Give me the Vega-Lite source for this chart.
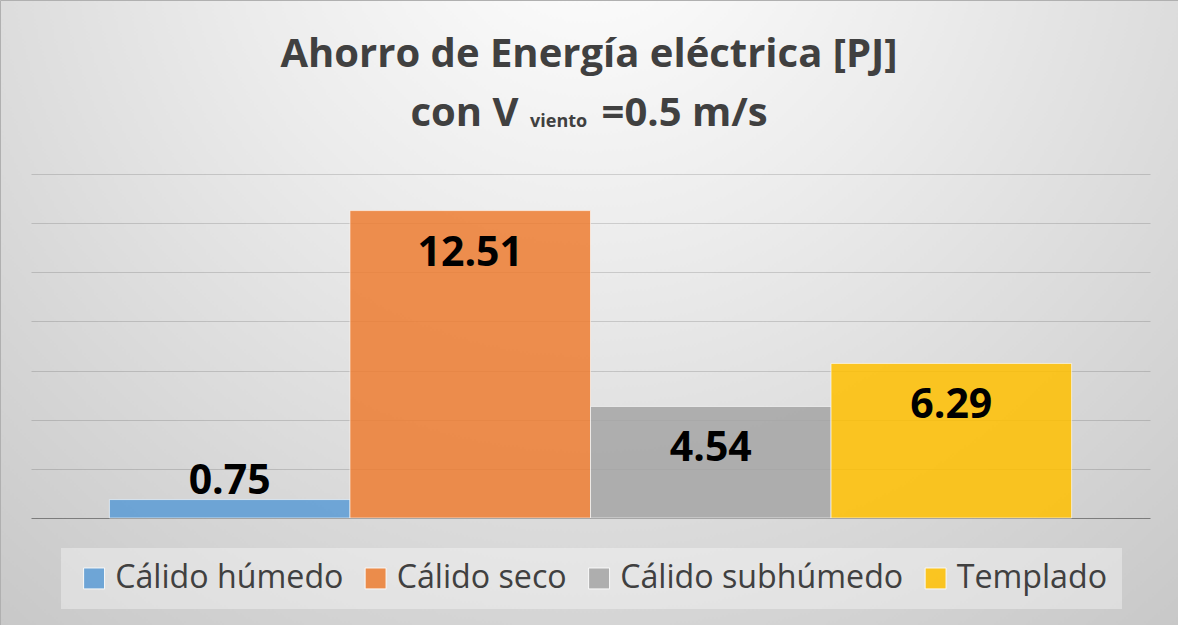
{
  "$schema": "https://vega.github.io/schema/vega-lite/v6.json",
  "width": 1178,
  "height": 625,
  "autosize": {"type": "fit", "contains": "padding"},
  "padding": 0,
  "background": "#d8d8d8",
  "view": {
    "fill": {
      "gradient": "radial",
      "x1": 0.5, "y1": 0.15, "r1": 0,
      "x2": 0.5, "y2": 0.15, "r2": 0.85,
      "stops": [
        {"offset": 0, "color": "#ffffff"},
        {"offset": 0.35, "color": "#ececec"},
        {"offset": 0.7, "color": "#d6d6d6"},
        {"offset": 1, "color": "#c4c4c4"}
      ]
    },
    "stroke": "#b0b0b0",
    "strokeWidth": 1
  },
  "title": {
    "text": ["Ahorro de Energía eléctrica [PJ]", "con V\u00a0\u00a0\u00a0\u00a0\u00a0\u00a0\u00a0\u00a0=0.5 m/s"],
    "subtitle": "viento\u00a0\u00a0\u00a0\u00a0\u00a0\u00a0\u00a0\u00a0\u00a0\u00a0\u00a0\u00a0\u00a0\u200b",
    "orient": "top",
    "anchor": "middle",
    "frame": "group",
    "offset": -134,
    "font": "Open Sans",
    "fontWeight": "bold",
    "fontSize": 40,
    "lineHeight": 59,
    "color": "#404040",
    "subtitleFont": "Open Sans",
    "subtitleFontWeight": "bold",
    "subtitleFontSize": 18,
    "subtitleColor": "#404040",
    "subtitlePadding": -21
  },
  "data": {
    "values": [
      {"clima": "Cálido húmedo", "valor": 0.75},
      {"clima": "Cálido seco", "valor": 12.51},
      {"clima": "Cálido subhúmedo", "valor": 4.54},
      {"clima": "Templado", "valor": 6.29}
    ]
  },
  "encoding": {
    "x": {
      "field": "clima",
      "type": "nominal",
      "sort": null,
      "scale": {"range": [31, 1150], "paddingInner": 0, "paddingOuter": 0.326},
      "axis": null
    },
    "y": {
      "field": "valor",
      "type": "quantitative",
      "scale": {"domain": [-4.3547, 21.081], "nice": false, "zero": false},
      "axis": {
        "values": [0, 2, 4, 6, 8, 10, 12, 14],
        "labels": false,
        "ticks": false,
        "domain": false,
        "title": null,
        "grid": true,
        "gridColor": "#000000",
        "gridOpacity": {"condition": {"test": "datum.value === 0", "value": 0.4}, "value": 0.14},
        "gridWidth": 1
      }
    }
  },
  "layer": [
    {
      "mark": {"type": "bar", "fillOpacity": 0.85, "stroke": "#ffffff", "strokeOpacity": 0.6, "strokeWidth": 1},
      "encoding": {
        "y2": {"datum": 0},
        "color": {
          "field": "clima",
          "type": "nominal",
          "sort": null,
          "scale": {
            "domain": ["Cálido húmedo", "Cálido seco", "Cálido subhúmedo", "Templado"],
            "range": ["#5B9BD5", "#ED7D31", "#A5A5A5", "#FFC000"]
          },
          "legend": {
            "title": null,
            "orient": "none",
            "legendX": 61,
            "legendY": 548,
            "direction": "horizontal",
            "columns": 4,
            "padding": 14,
            "fillColor": "rgba(255,255,255,0.35)",
            "symbolType": "square",
            "symbolSize": 440,
            "symbolOffset": 3,
            "symbolOpacity": 0.85,
            "symbolStrokeColor": "#ffffff",
            "symbolStrokeWidth": 1,
            "labelFont": "Open Sans",
            "labelFontSize": 32.2,
            "labelColor": "#404040",
            "labelOffset": 5,
            "labelLimit": 500,
            "columnPadding": 12.5
          }
        }
      }
    },
    {
      "transform": [{"filter": "datum.valor >= 2"}],
      "mark": {"type": "text", "font": "Open Sans", "fontWeight": "bold", "fontSize": 41, "color": "#000000", "baseline": "middle", "align": "center", "dy": 43},
      "encoding": {
        "text": {"field": "valor", "type": "quantitative", "format": ".2f"}
      }
    },
    {
      "transform": [{"filter": "datum.valor < 2"}],
      "mark": {"type": "text", "font": "Open Sans", "fontWeight": "bold", "fontSize": 41, "color": "#000000", "baseline": "middle", "align": "center", "dy": -18},
      "encoding": {
        "text": {"field": "valor", "type": "quantitative", "format": ".2f"}
      }
    }
  ]
}
